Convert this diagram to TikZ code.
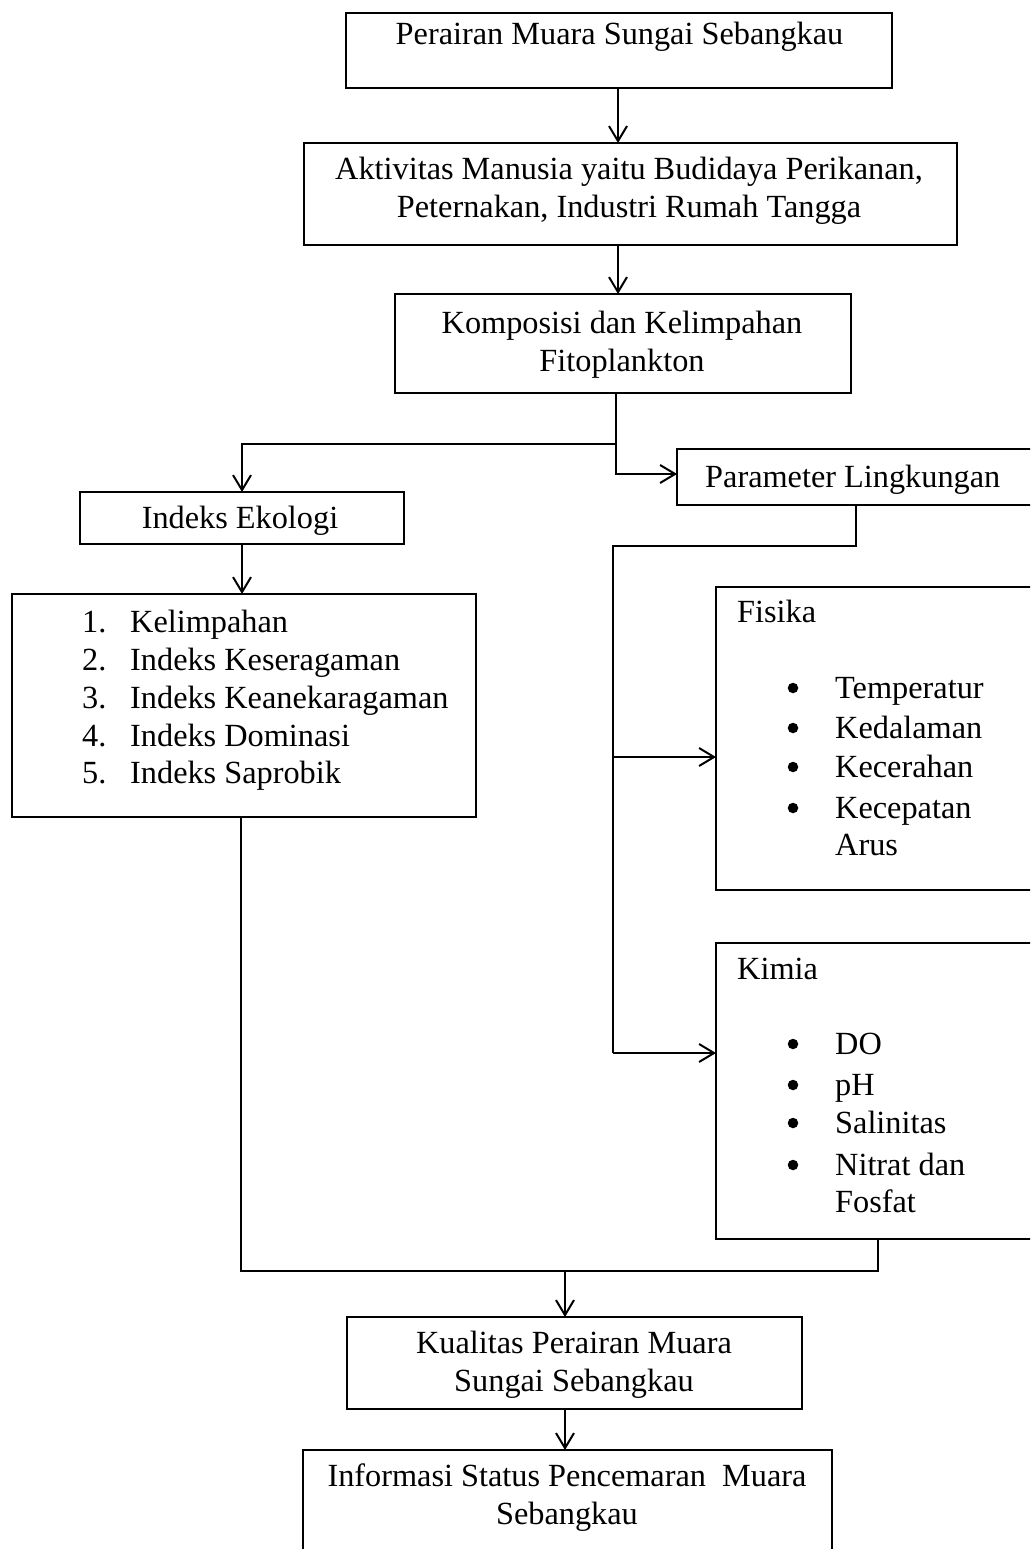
\documentclass[tikz,border=0pt]{standalone}
\usepackage{fontspec}
\setmainfont{Liberation Serif}
\usetikzlibrary{arrows.meta}
\newcommand\myfs{\fontsize{32.3}{38}\selectfont}
\begin{document}
\begin{tikzpicture}[x=1pt,y=-1pt,
  box/.style={draw, line width=2pt, inner sep=0pt, outer sep=0pt, anchor=north west},
  txt/.style={font=\myfs, inner sep=0pt, anchor=base},
  ltxt/.style={font=\myfs, inner sep=0pt, anchor=base west},
  dot/.style={circle, fill=black, inner sep=0pt, minimum size=10.5pt},
  ln/.style={line width=2pt},
  arr/.style={line width=2pt, -{Straight Barb[length=15pt,width=18pt]}}]
\useasboundingbox (0,0) rectangle (1030,1549);
\clip (0,0) rectangle (1030,1549);
\fill[white] (0,0) rectangle (1030,1549);

% boxes
\node[box, minimum width=546pt, minimum height=75pt] (b1) at (346,13) {};
\node[box, minimum width=653pt, minimum height=102pt] (b2) at (304,143) {};
\node[box, minimum width=456pt, minimum height=99pt] (b3) at (395,294) {};
\node[box, minimum width=380pt, minimum height=56pt] (param) at (677,449) {};
\node[box, minimum width=324pt, minimum height=52pt] (eko) at (80,492) {};
\node[box, minimum width=464pt, minimum height=223pt] (list) at (12,594) {};
\node[box, minimum width=340pt, minimum height=303pt] (fis) at (716,587) {};
\node[box, minimum width=340pt, minimum height=296pt] (kim) at (716,943) {};
\node[box, minimum width=455pt, minimum height=92pt] (kual) at (347,1317) {};
\node[box, minimum width=529pt, minimum height=130pt] (info) at (303,1450) {};

% texts
\node[txt] (t1) at (619.5,45) {Perairan Muara Sungai Sebangkau};
\node[txt] (t2a) at (629,179) {Aktivitas Manusia yaitu Budidaya Perikanan,};
\node[txt] (t2b) at (629,218) {Peternakan, Industri Rumah Tangga};
\node[txt] (t3a) at (622,333) {Komposisi dan Kelimpahan};
\node[txt] (t3b) at (622,371) {Fitoplankton};
\node[ltxt] (tp) at (705,487) {Parameter Lingkungan};
\node[txt] (te) at (240,528) {Indeks Ekologi};

\node[ltxt] (n1) at (82,632) {1.};
\node[ltxt] (n2) at (82,670) {2.};
\node[ltxt] (n3) at (82,708) {3.};
\node[ltxt] (n4) at (82,746) {4.};
\node[ltxt] (n5) at (82,783) {5.};
\node[ltxt] (l1) at (130,632) {Kelimpahan};
\node[ltxt] (l2) at (130,670) {Indeks Keseragaman};
\node[ltxt] (l3) at (130,708) {Indeks Keanekaragaman};
\node[ltxt] (l4) at (130,746) {Indeks Dominasi};
\node[ltxt] (l5) at (130,783) {Indeks Saprobik};

\node[ltxt] (tf) at (737,622) {Fisika};
\node[dot] (bf1) at (793,688) {};
\node[dot] (bf2) at (793,728) {};
\node[dot] (bf3) at (793,767) {};
\node[dot] (bf4) at (793,808) {};
\node[ltxt] (f1) at (835,698) {Temperatur};
\node[ltxt] (f2) at (835,738) {Kedalaman};
\node[ltxt] (f3) at (835,777) {Kecerahan};
\node[ltxt] (f4) at (835,818) {Kecepatan};
\node[ltxt] (f5) at (835,855) {Arus};

\node[ltxt] (tk) at (737,979) {Kimia};
\node[dot] (bk1) at (793,1044) {};
\node[dot] (bk2) at (793,1085) {};
\node[dot] (bk3) at (793,1123) {};
\node[dot] (bk4) at (793,1165) {};
\node[ltxt] (k1) at (835,1054) {DO};
\node[ltxt] (k2) at (835,1095) {pH};
\node[ltxt] (k3) at (835,1133) {Salinitas};
\node[ltxt] (k4) at (835,1175) {Nitrat dan};
\node[ltxt] (k5) at (835,1212) {Fosfat};

\node[txt] (q1) at (574,1353) {Kualitas Perairan Muara};
\node[txt] (q2) at (574,1391) {Sungai Sebangkau};
\node[txt] (i1) at (567,1486) {Informasi Status Pencemaran\ \ Muara};
\node[txt] (i2) at (567,1524) {Sebangkau};

% connectors
\coordinate (sp) at (618,0);
\coordinate (j1) at (616,444);
\draw[arr] (b1.south -| sp) -- (b2.north -| sp);
\draw[arr] (b2.south -| sp) -- (b3.north -| sp);
\draw[arr] (b3.south -| j1) -- (j1) |- ([yshift=3pt]param.west);
\draw[arr] (j1) -| (eko.north);
\draw[arr] (eko.south) -- (list.north -| eko.south);

\coordinate (pd) at (856,546);
\coordinate (pl) at (613,546);
\coordinate (af) at (613,757);
\coordinate (ak) at (613,1053);
\draw[ln] (param.south -| pd) -- (pd) -- (pl) -- (ak);
\draw[arr] (af) -- (af -| fis.west);
\draw[arr] (ak) -- (ak -| kim.west);

\coordinate (lb) at (241,1271);
\coordinate (rb) at (878,1271);
\coordinate (mb) at (565,1271);
\draw[ln] (list.south -| lb) -- (lb) -- (rb) -- (kim.south -| rb);
\draw[arr] (mb) -- (kual.north -| mb);
\draw[arr] (kual.south -| mb) -- (info.north -| mb);
\end{tikzpicture}
\end{document}
